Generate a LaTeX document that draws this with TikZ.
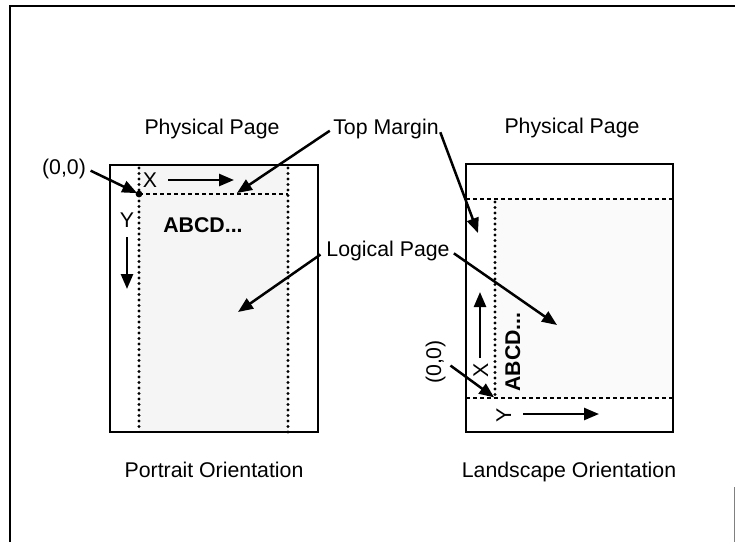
\documentclass[tikz,border=0pt]{standalone}
\usepackage{fontspec}
\setmainfont{Liberation Sans}
\usetikzlibrary{arrows.meta}
\begin{document}
\begin{tikzpicture}[x=1pt,y=-1pt,
  lbl/.style={inner sep=0pt, anchor=base, font=\fontsize{21.3}{24}\selectfont},
  boldlbl/.style={lbl, font=\fontsize{21.3}{24}\selectfont\bfseries},
  pagebox/.style={line width=2.8pt},
  dashline/.style={line width=2.4pt, dash pattern=on 4pt off 3pt},
  dotline/.style={line width=3.3pt, line cap=round, dash pattern=on 0pt off 5.5pt},
  arr/.style={line width=2.5pt, -{Triangle[length=15pt,width=12pt]}},
]
\useasboundingbox (0,0) rectangle (735,542);
% background tints
\fill[gray!8] (139,165) rectangle (288,432);
\fill[gray!4] (495,199) rectangle (673,398);
% frame
\draw[line width=2pt] (10,542) -- (10,6) -- (735,6);
\draw[line width=0.8pt, gray] (734,487) -- (734,542);

% ---------------- Portrait ----------------
\draw[pagebox] (110,165) rectangle (318,432);
\draw[dotline] (139,168) -- (139,430);
\draw[dotline] (288,168) -- (288,432);
\draw[dashline] (139,194) -- (288,194);
\coordinate (po) at (139,194);
\fill (po) circle (3.4pt);

\node[lbl] (pp1) at (212,134) {Physical Page};
\node[lbl] (po1) at (64,174) {(0,0)};
\node[lbl] (px) at (150,187) {X};
\node[lbl] (py) at (127,227) {Y};
\node[boldlbl] (pabc) at (203,232) {ABCD...};
\node[lbl] (port) at (214,477) {Portrait Orientation};

\coordinate (pxs) at (168,180);
\coordinate (pxe) at (234,180);
\coordinate (pys) at (127,237);
\coordinate (pye) at (127,289);
\draw[arr] (pxs) -- (pxe);
\draw[arr] (pys) -- (pye);

% ---------------- Landscape ----------------
\draw[pagebox] (466,164) rectangle (673,432);
\draw[dashline] (466,199) -- (673,199);
\draw[dashline] (466,398) -- (673,398);
\draw[dotline] (495,202) -- (495,396);
\coordinate (lo) at (495,398);

\node[lbl] (pp2) at (572,133) {Physical Page};
\node[lbl] (land) at (569,477) {Landscape Orientation};
\node[lbl, rotate=90] (lx) at (488,370) {X};
\node[boldlbl, rotate=90] (labc) at (520,352) {ABCD...};
\node[lbl, rotate=90] (lo1) at (441,362) {(0,0)};
\node[lbl, rotate=90] (ly) at (511,415) {Y};

\coordinate (lxs) at (480,358);
\coordinate (lxe) at (480,292);
\coordinate (lys) at (523,414);
\coordinate (lye) at (599,414);
\draw[arr] (lxs) -- (lxe);
\draw[arr] (lys) -- (lye);
\draw[arr, shorten <=6pt, shorten >=1pt] (lo1.south) -- (lo);

% ---------------- Shared labels ----------------
\node[lbl] (tm) at (386,134) {Top Margin};
\node[lbl] (lp) at (388,256) {Logical Page};

\coordinate (tmL) at (237,193);
\coordinate (tmR) at (478,233);
\coordinate (lpL) at (238,312);
\coordinate (lpR) at (557,325);

\draw[arr, shorten <=4pt] (tm.west) -- (tmL);
\draw[arr, shorten <=4pt] (tm.east) -- (tmR);
\draw[arr, shorten <=7pt] (lp.west) -- (lpL);
\draw[arr, shorten <=5pt] (lp.east) -- (lpR);
\draw[arr, shorten <=5pt, shorten >=2pt] (po1.east) -- (po);
\end{tikzpicture}
\end{document}
